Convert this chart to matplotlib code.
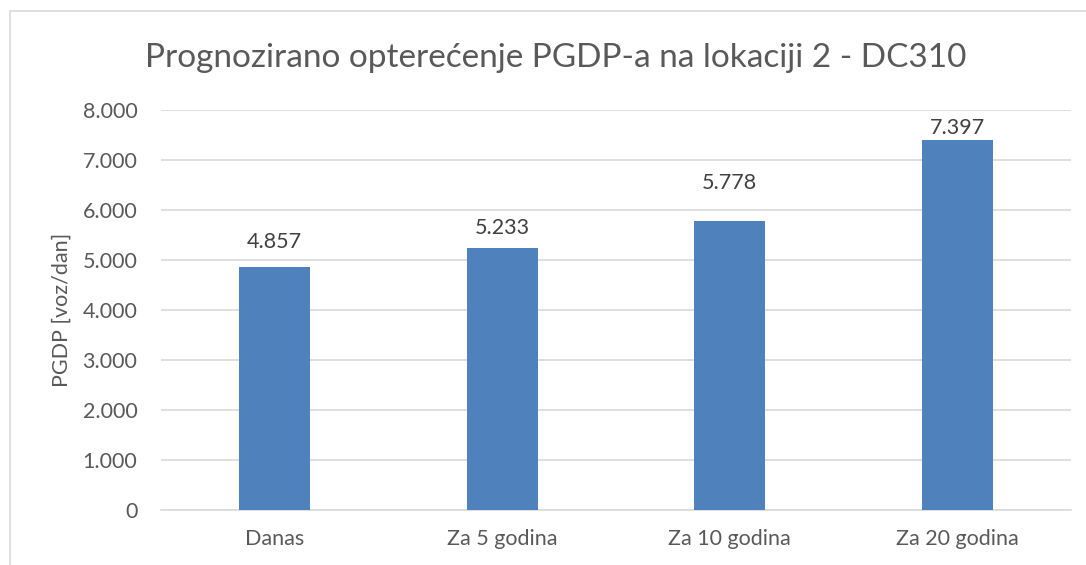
import matplotlib.pyplot as plt
from matplotlib.patches import Rectangle
from matplotlib.ticker import FuncFormatter

categories = ['Danas', 'Za 5 godina', 'Za 10 godina', 'Za 20 godina']
values = [4857, 5233, 5778, 7397]
y_ticks = [0, 1000, 2000, 3000, 4000, 5000, 6000, 7000, 8000]

# label offsets above the bars (points), the labels were placed by hand
label_offsets = [11, 7.4, 20.4, 1.6]


def fmt(v, pos=None):
    return '{:,.0f}'.format(v).replace(',', '.')


plt.rcParams['font.family'] = ['Lato', 'DejaVu Sans']

fig = plt.figure(figsize=(10.86, 5.65), dpi=100)
ax = fig.add_axes([161 / 1086, 1 - 510 / 565, 910 / 1086, 400 / 565])

# chart frame (goes off the right and bottom edge)
fig.patches.append(Rectangle((10 / 1086, -0.05), 1.1, 1 - 11 / 565 + 0.05,
                             transform=fig.transFigure, fill=False,
                             edgecolor='#d9d9d9', linewidth=1.2))

x = range(len(categories))
ax.bar(x, values, width=0.31, color='#4f81bd', zorder=3)
for i, v, off in zip(x, values, label_offsets):
    ax.annotate(fmt(v), (i, v), xytext=(0, off), textcoords='offset points',
                ha='center', va='bottom', fontsize=15.5, color='#404040')

ax.set_xlim(-0.5, len(categories) - 0.5)
ax.set_ylim(0, 8000)
ax.set_yticks(y_ticks)
ax.yaxis.set_major_formatter(FuncFormatter(fmt))
ax.set_xticks(list(x))
ax.set_xticklabels(categories)
ax.grid(axis='y', color='#d9d9d9', linewidth=1.2, zorder=0)
for s in ['top', 'right', 'left']:
    ax.spines[s].set_visible(False)
ax.spines['bottom'].set_color('#d9d9d9')
ax.spines['bottom'].set_linewidth(1.2)
ax.tick_params(length=0, labelsize=15.5, labelcolor='#595959')
ax.tick_params(axis='y', pad=17)
ax.tick_params(axis='x', pad=14)
ax.set_ylabel('PGDP [voz/dan]', fontsize=15.5, color='#595959', labelpad=8)

fig.text(556 / 1086, 1 - 58 / 565, 'Prognozirano opterećenje PGDP-a na lokaciji 2 - DC310',
         ha='center', va='center', fontsize=24, color='#595959')

fig.savefig('out.png', dpi=100)
